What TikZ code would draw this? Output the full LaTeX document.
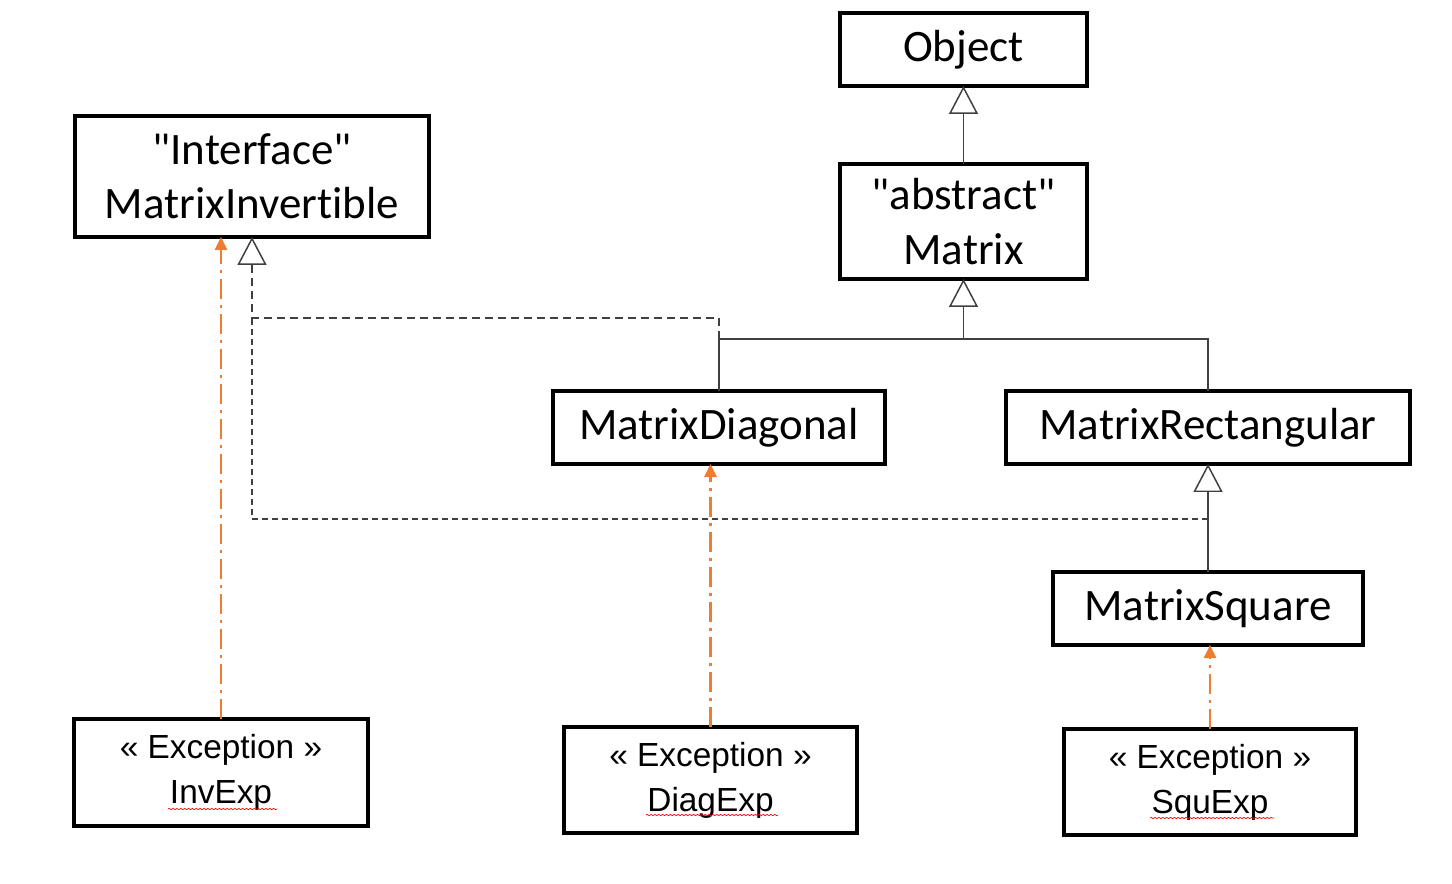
\documentclass[tikz,border=0pt]{standalone}
\usepackage{fontspec}
\setmainfont{Carlito}[Ligatures=NoCommon]
\newfontfamily\excfont{Liberation Sans}
\usetikzlibrary{arrows.meta,calc,positioning,decorations.pathmorphing}
\definecolor{exorange}{HTML}{ED7D31}
\definecolor{linegray}{HTML}{404040}
\newcommand{\qt}[1]{\textquotedbl#1\textquotedbl}
\begin{document}
\begin{tikzpicture}[x=0.02cm,y=-0.02cm,
  box/.style={draw,rectangle,line width=0.08cm,outer sep=0pt,align=center,
    font=\fontsize{25.6}{31}\selectfont},
  exbox/.style={box,font=\excfont\fontsize{19}{25.5}\selectfont},
  line/.style={draw=linegray,line width=0.85pt},
  gen/.style={line,-{Triangle[open,length=0.56cm,width=0.58cm]}},
  real/.style={gen,dash pattern=on 0.16cm off 0.1cm},
  throws/.style={draw=exorange,line width=1.5pt,
    dash pattern=on 0.4cm off 0.12cm on 0.06cm off 0.12cm,
    -{Triangle[length=0.26cm,width=0.24cm]}},
  squig/.style={draw=red,line width=0.4pt,decorate,
    decoration={snake,amplitude=0.35pt,segment length=2.2pt}}]

  \useasboundingbox (0,0) rectangle (1452,883);

  \node (obj) [box,minimum width=4.94cm,minimum height=1.46cm] at (963.5,49.5) {Object};
  \node (mat) [box,minimum width=4.94cm,minimum height=2.3cm] at (963.5,221.5) {\qt{abstract}\\Matrix};
  \node (ifc) [box,minimum width=7.08cm,minimum height=2.42cm] at (252,176.5) {\qt{Interface}\\MatrixInvertible};
  \node (diag) [box,minimum width=6.64cm,minimum height=1.46cm] at (719,427.5) {MatrixDiagonal};
  \node (rect) [box,minimum width=8.08cm,minimum height=1.46cm] at (1208,427.5) {MatrixRectangular};
  \node (sq) [box,minimum width=6.22cm,minimum height=1.46cm] at (1208,608.5) {MatrixSquare};

  \node (inv) [exbox,minimum width=5.88cm,minimum height=2.14cm] at (221,772.5) {« Exception »\\InvExp};
  \node (dexp) [exbox,minimum width=5.86cm,minimum height=2.12cm] at (710.5,780) {« Exception »\\DiagExp};
  \node (sexp) [exbox,minimum width=5.84cm,minimum height=2.12cm] at (1210,782) {« Exception »\\SquExp};

  \coordinate (split) at (963.5,339);
  \coordinate (rt) at (252,318);
  \coordinate (lw) at (252,519);

  % inheritance
  \draw[gen] (mat) -- (obj);
  \draw[line] (diag.north) |- (split) -| (rect.north);
  \draw[gen] (split) -- (mat);
  \draw[gen] (sq) -- (rect);

  % realization of the interface
  \draw[real] (diag.north) -- (diag.north |- rt) -- (rt) -- (rt |- ifc.south);
  \draw[line,dash pattern=on 0.12cm off 0.08cm] (sq.north |- lw) -- (lw) -- (rt);

  % exceptions
  \draw[throws] (inv.north) -- (inv.north |- ifc.south);
  \draw[throws] (dexp.north) -- (dexp.north |- diag.south);
  \draw[throws] (sexp.north) -- (sexp.north |- sq.south);

  \draw[squig] (168,809) -- (277,809);
  \draw[squig] (646,815) -- (778,815);
  \draw[squig] (1150,818) -- (1274,818);
\end{tikzpicture}
\end{document}
